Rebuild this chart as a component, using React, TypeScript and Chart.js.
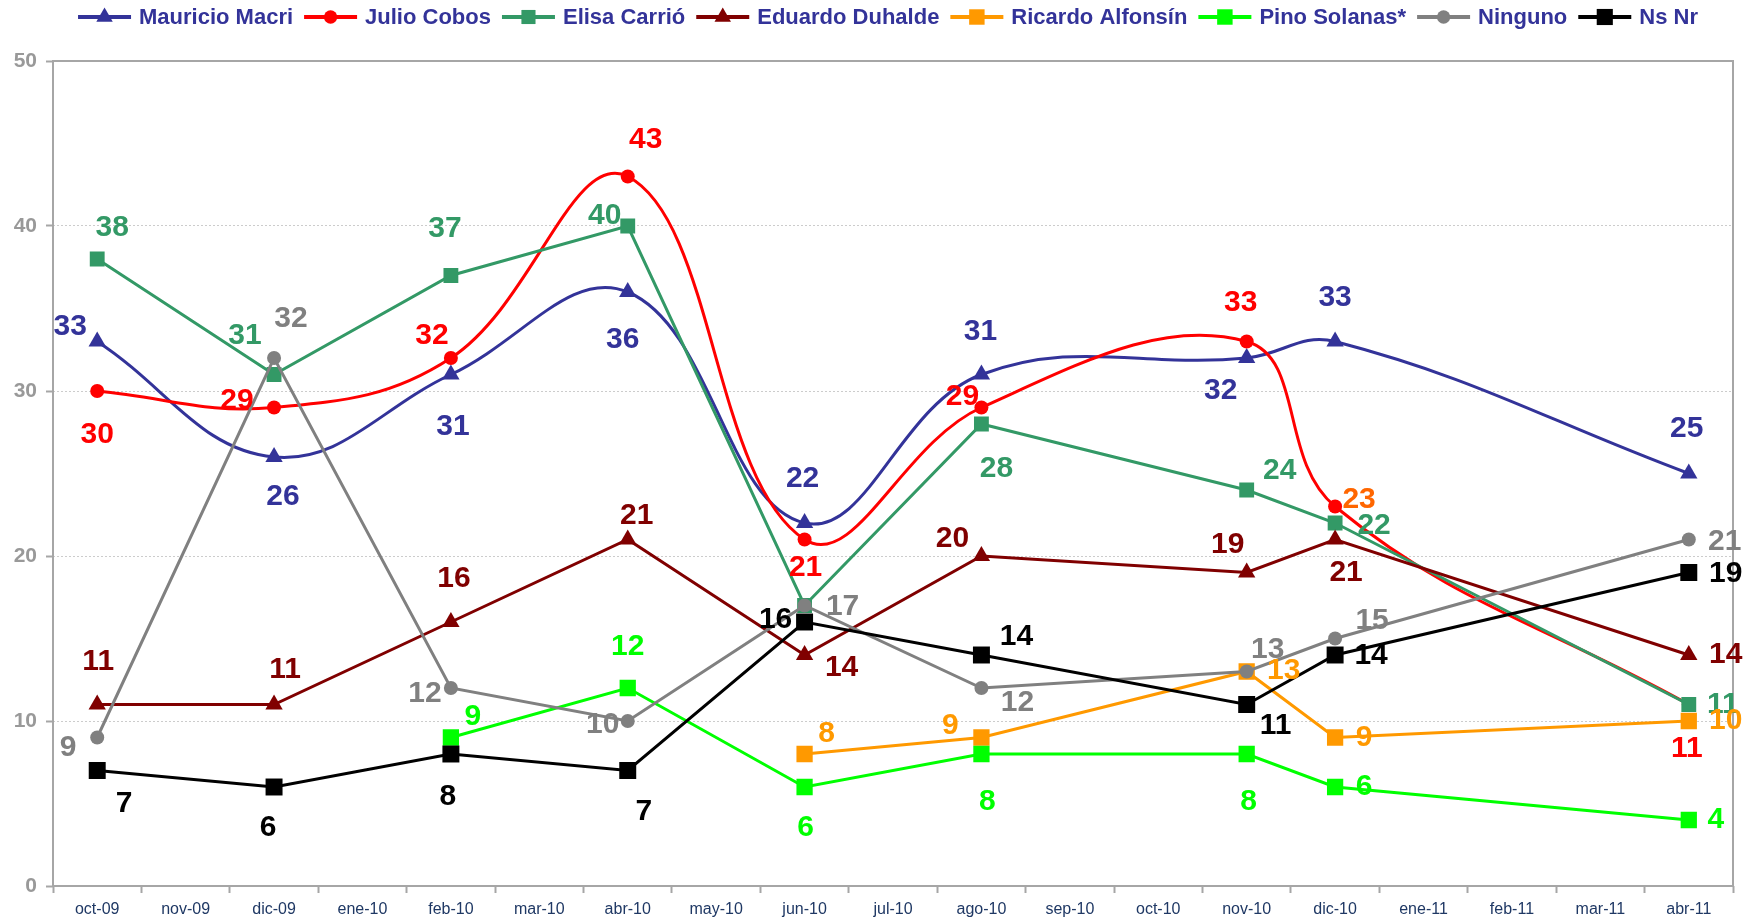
import React, { useEffect, useRef } from "react";
import { Chart, registerables } from "chart.js";

Chart.register(...registerables);

// ---- data ----
const months = [
  "oct-09", "nov-09", "dic-09", "ene-10", "feb-10", "mar-10", "abr-10", "may-10", "jun-10", "jul-10",
  "ago-10", "sep-10", "oct-10", "nov-10", "dic-10", "ene-11", "feb-11", "mar-11", "abr-11",
];
const yTicks = [0, 10, 20, 30, 40, 50];

const macri = [33, null, 26, null, 31, null, 36, null, 22, null, 31, null, null, 32, 33, null, null, null, 25];
const cobos = [30, null, 29, null, 32, null, 43, null, 21, null, 29, null, null, 33, 23, null, null, null, 11];
const carrio = [38, null, 31, null, 37, null, 40, null, 17, null, 28, null, null, 24, 22, null, null, null, 11];
const duhalde = [11, null, 11, null, 16, null, 21, null, 14, null, 20, null, null, 19, 21, null, null, null, 14];
const alfonsin = [null, null, null, null, null, null, null, null, 8, null, 9, null, null, 13, 9, null, null, null, 10];
const solanas = [null, null, null, null, 9, null, 12, null, 6, null, 8, null, null, 8, 6, null, null, null, 4];
const ninguno = [9, null, 32, null, 12, null, 10, null, 17, null, 12, null, null, 13, 15, null, null, null, 21];
const nsnr = [7, null, 6, null, 8, null, 7, null, 16, null, 14, null, null, 11, 14, null, null, null, 19];

// ---- label placement (offset of value label from its point, px) ----
const macriLbl = [[-27, -15], [9, 40], [2, 52], [-5, 48], [-2, -44], [-1, -43], [-26, 33], [0, -44], [-2, -45]];
const cobosLbl = [[0, 44], [-37, -7], [-19, -22], [18, -37], [1, 28], [-19, -11], [-6, -39], [24, -7], [-2, 44]];
const carrioLbl = [[15, -31], [-29, -39], [-6, -47], [-23, -10], null, [15, 45], [33, -19], [39, 3], [34, 0]];
const duhaldeLbl = [[1, -43], [11, -35], [3, -43], [9, -24], [37, 13], [-29, -17], [-19, -28], [11, 33], [37, 0]];
const alfonsinLbl = [[22, -20], [-31, -12], [37, -1], [29, 0], [37, 0]];
const solanasLbl = [[22, -21], [0, -41], [1, 41], [6, 48], [2, 48], [29, 0], [27, 0]];
const ningunoLbl = [[-29, 10], [17, -39], [-26, 6], [-25, 4], [38, 1], [36, 15], [21, -22], [37, -18], [36, 2]];
const nsnrLbl = [[27, 33], [-6, 41], [-3, 43], [16, 41], [-29, -2], [35, -18], [29, 21], [36, 1], [37, 1]];

type S = {
  label: string;
  data: (number | null)[];
  color: string;
  style: "triangle" | "circle" | "rect";
  radius: number;
  smooth: boolean;
  offsets: (number[] | null)[];
  labelColors?: Record<number, string>;
};

const SERIES: S[] = [
  { label: "Mauricio Macri", data: macri, color: "#333399", style: "triangle", radius: 10, smooth: true, offsets: macriLbl },
  { label: "Julio Cobos", data: cobos, color: "#FF0000", style: "circle", radius: 7, smooth: true, offsets: cobosLbl, labelColors: { 7: "#FF6600" } },
  { label: "Elisa Carrió", data: carrio, color: "#339966", style: "rect", radius: 10.5, smooth: false, offsets: carrioLbl },
  { label: "Eduardo Duhalde", data: duhalde, color: "#800000", style: "triangle", radius: 10, smooth: false, offsets: duhaldeLbl },
  { label: "Ricardo Alfonsín", data: alfonsin, color: "#FF9900", style: "rect", radius: 11.5, smooth: false, offsets: alfonsinLbl },
  { label: "Pino Solanas*", data: solanas, color: "#00FF00", style: "rect", radius: 11.5, smooth: false, offsets: solanasLbl },
  { label: "Ninguno", data: ninguno, color: "#808080", style: "circle", radius: 7, smooth: false, offsets: ningunoLbl },
  { label: "Ns Nr", data: nsnr, color: "#000000", style: "rect", radius: 12, smooth: false, offsets: nsnrLbl },
];

const FONT = "'Liberation Sans', Arial, sans-serif";

const framePlugin = {
  id: "frame",
  beforeDatasetsDraw(chart: any) {
    const { ctx, chartArea } = chart;
    const { left, right, top, bottom } = chartArea;
    ctx.save();
    ctx.strokeStyle = "#A6A6A6";
    ctx.lineWidth = 2;
    ctx.setLineDash([]);
    ctx.strokeRect(left, top, right - left, bottom - top);
    ctx.restore();
  },
};

const valueLabelPlugin = {
  id: "valueLabels",
  afterDatasetsDraw(chart: any) {
    const { ctx } = chart;
    ctx.save();
    ctx.font = `bold 30px ${FONT}`;
    ctx.textAlign = "center";
    ctx.textBaseline = "middle";
    SERIES.forEach((s, di) => {
      const meta = chart.getDatasetMeta(di);
      let k = 0;
      s.data.forEach((v, j) => {
        if (v === null) return;
        const off = s.offsets[k];
        const idx = k;
        k++;
        if (!off) return;
        const pt = meta.data[j];
        ctx.fillStyle = (s.labelColors && s.labelColors[idx]) || s.color;
        ctx.fillText(String(v), pt.x + off[0], pt.y + off[1]);
      });
    });
    ctx.restore();
  },
};

function drawMarker(ctx: CanvasRenderingContext2D, style: string, x: number, y: number, r: number, color: string) {
  ctx.fillStyle = color;
  ctx.beginPath();
  if (style === "circle") {
    ctx.arc(x, y, r, 0, Math.PI * 2);
  } else if (style === "triangle") {
    const h = r * 1.5;
    const w = r * Math.sqrt(3);
    ctx.moveTo(x, y - r);
    ctx.lineTo(x + w / 2, y - r + h);
    ctx.lineTo(x - w / 2, y - r + h);
    ctx.closePath();
  } else {
    const h = r * Math.SQRT1_2;
    ctx.rect(x - h, y - h, 2 * h, 2 * h);
  }
  ctx.fill();
}

const legendPlugin = {
  id: "customLegend",
  afterDraw(chart: any) {
    const { ctx } = chart;
    ctx.save();
    ctx.font = `bold 22px ${FONT}`;
    ctx.textBaseline = "middle";
    ctx.textAlign = "left";
    const sampleW = 53;
    const gapText = 8;
    const gapItem = 11;
    const widths = SERIES.map((s) => ctx.measureText(s.label).width);
    const total = widths.reduce((a, b) => a + b, 0) + SERIES.length * (sampleW + gapText) + (SERIES.length - 1) * gapItem;
    let x = 888 - total / 2;
    const y = 17;
    SERIES.forEach((s, i) => {
      ctx.strokeStyle = s.color;
      ctx.lineWidth = 4;
      ctx.beginPath();
      ctx.moveTo(x, y);
      ctx.lineTo(x + sampleW, y);
      ctx.stroke();
      drawMarker(ctx, s.style, x + sampleW / 2, y, s.radius * 0.95, s.color);
      ctx.fillStyle = "#333399";
      ctx.fillText(s.label, x + sampleW + gapText, y + 1);
      x += sampleW + gapText + widths[i] + gapItem;
    });
    ctx.restore();
  },
};

export default function App() {
  const ref = useRef<HTMLCanvasElement | null>(null);

  useEffect(() => {
    document.body.style.margin = "0";
    const canvas = ref.current!;
    const chart = new Chart(canvas, {
      type: "line",
      data: {
        labels: months,
        datasets: SERIES.map((s, i) => ({
          label: s.label,
          data: s.data,
          borderColor: s.color,
          backgroundColor: s.color,
          borderWidth: 3,
          pointStyle: s.style,
          pointRadius: s.radius,
          pointBackgroundColor: s.color,
          pointBorderColor: s.color,
          pointBorderWidth: 0,
          tension: s.smooth ? 0.4 : 0,
          spanGaps: true,
          fill: false,
          order: -i,
        })),
      },
      options: {
        responsive: false,
        animation: false,
        devicePixelRatio: 1,
        events: [],
        layout: { padding: { top: 61, right: 25, left: 0, bottom: 0 } },
        plugins: {
          legend: { display: false },
          tooltip: { enabled: false },
        },
        scales: {
          x: {
            type: "category",
            offset: true,
            afterFit: (s: any) => {
              s.height = 34;
            },
            grid: {
              display: true,
              offset: true,
              drawOnChartArea: false,
              drawTicks: true,
              tickLength: 7,
              tickColor: "#A6A6A6",
              tickWidth: 2,
            },
            border: { display: false },
            ticks: {
              autoSkip: false,
              maxRotation: 0,
              minRotation: 0,
              padding: 7,
              color: "#1F3864",
              font: { family: FONT, size: 16 },
            },
          },
          y: {
            min: 0,
            max: 50,
            afterFit: (s: any) => {
              s.width = 53;
            },
            afterBuildTicks: (s: any) => {
              s.ticks = yTicks.map((v) => ({ value: v }));
            },
            grid: {
              color: "#CCCCCC",
              lineWidth: 1,
              drawTicks: true,
              tickLength: 7,
              tickColor: "#A6A6A6",
              tickWidth: 2,
              tickBorderDash: [],
            },
            border: { display: false, dash: [2, 2] },
            ticks: {
              padding: 9,
              color: "#999999",
              font: { family: FONT, size: 21, weight: "bold" },
            },
          },
        },
      },
      plugins: [framePlugin, valueLabelPlugin, legendPlugin],
    } as any);
    return () => chart.destroy();
  }, []);

  return (
    <div style={{ width: 1758, height: 920, background: "#fff" }}>
      <canvas ref={ref} width={1758} height={920} style={{ display: "block" }} />
    </div>
  );
}
